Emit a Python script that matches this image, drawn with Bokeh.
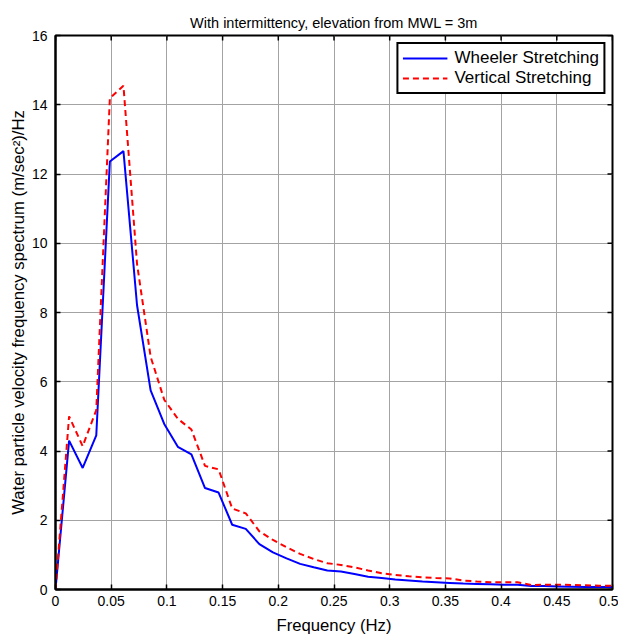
from bokeh.plotting import figure
from bokeh.models import Range1d, FixedTicker, Legend, LegendItem
from bokeh.embed import file_html
from bokeh.resources import INLINE
import math

# Frequency (Hz)
freq = [0.0000, 0.0122, 0.0244, 0.0366, 0.0488, 0.0610, 0.0732, 0.0854, 0.0976, 0.1098,
        0.1220, 0.1342, 0.1464, 0.1586, 0.1708, 0.1830, 0.1952, 0.2074, 0.2196, 0.2318,
        0.2440, 0.2562, 0.2684, 0.2806, 0.2928, 0.3050, 0.3172, 0.3294, 0.3416, 0.3538,
        0.3660, 0.3782, 0.3904, 0.4026, 0.4148, 0.4270, 0.4392, 0.4514, 0.4636, 0.4758,
        0.4880, 0.5002]

wheeler = [0.00, 4.30, 3.51, 4.45, 12.36, 12.66, 8.21, 5.75, 4.78, 4.12,
           3.90, 2.93, 2.80, 1.87, 1.75, 1.31, 1.07, 0.90, 0.74, 0.64,
           0.55, 0.52, 0.45, 0.37, 0.33, 0.29, 0.26, 0.23, 0.21, 0.19,
           0.17, 0.16, 0.15, 0.14, 0.14, 0.10, 0.10, 0.09, 0.08, 0.07,
           0.07, 0.07]

vertical = [0.00, 5.00, 4.14, 5.18, 14.19, 14.55, 9.40, 6.72, 5.48, 4.93,
            4.62, 3.57, 3.47, 2.34, 2.20, 1.68, 1.43, 1.22, 1.03, 0.88,
            0.76, 0.71, 0.64, 0.55, 0.47, 0.42, 0.38, 0.35, 0.33, 0.32,
            0.26, 0.23, 0.21, 0.21, 0.21, 0.13, 0.14, 0.14, 0.13, 0.12,
            0.11, 0.11]

x_ticks = [0.0, 0.05, 0.1, 0.15, 0.2, 0.25, 0.3, 0.35, 0.4, 0.45, 0.5]
x_tick_labels = ["0", "0.05", "0.1", "0.15", "0.2", "0.25", "0.3", "0.35", "0.4", "0.45", "0.5"]
y_ticks = [0, 2, 4, 6, 8, 10, 12, 14, 16]

FONT = "Liberation Sans"
X_MIN, X_MAX = x_ticks[0], x_ticks[-1]
Y_MIN, Y_MAX = y_ticks[0], y_ticks[-1]

p = figure(width=618, height=637, output_backend="svg", toolbar_location=None,
           x_range=Range1d(X_MIN, X_MAX), y_range=Range1d(Y_MIN, Y_MAX),
           min_border_left=55, min_border_right=6, min_border_top=35, min_border_bottom=46,
           background_fill_color="white", border_fill_color="white")

p.title.text = "With intermittency, elevation from MWL = 3m"
p.title.text_font = FONT
p.title.text_font_size = "14.5px"
p.title.text_font_style = "normal"
p.title.text_color = "black"
p.title.align = "center"

p.outline_line_color = "black"
p.outline_line_width = 2
p.outline_line_alpha = 1.0

for ax in (p.xaxis[0], p.yaxis[0]):
    ax.axis_line_width = 2
    ax.axis_line_color = "black"
    ax.major_tick_in = 5
    ax.major_tick_out = 0
    ax.major_tick_line_width = 1.5
    ax.minor_tick_line_color = None
    ax.major_label_text_font = FONT
    ax.major_label_text_font_size = "14px"
    ax.major_label_text_color = "black"
    ax.axis_label_text_font = FONT
    ax.axis_label_text_font_size = "16.7px"
    ax.axis_label_text_font_style = "normal"
    ax.axis_label_text_color = "black"

p.xaxis[0].ticker = FixedTicker(ticks=x_ticks)
p.xaxis[0].major_label_overrides = {t: l for t, l in zip(x_ticks, x_tick_labels)}
p.xaxis[0].axis_label = "Frequency (Hz)"
p.xaxis[0].major_label_standoff = 6
p.xaxis[0].axis_label_standoff = 7

p.yaxis[0].ticker = FixedTicker(ticks=y_ticks)
p.yaxis[0].axis_label = "Water particle velocity frequency spectrum (m/sec\u00b2)/Hz"
p.yaxis[0].major_label_standoff = 8
p.yaxis[0].axis_label_standoff = 1

p.grid.grid_line_color = "#a3a3a3"
p.grid.grid_line_width = 1
p.xgrid.ticker = FixedTicker(ticks=x_ticks)
p.ygrid.ticker = FixedTicker(ticks=y_ticks)

# inward ticks on the top and right edges (clipped to the frame)
p.scatter(x_ticks, [Y_MAX] * len(x_ticks), marker="dash", angle=math.pi / 2, size=10,
          line_color="black", line_width=1.5)
p.scatter([X_MAX] * len(y_ticks), y_ticks, marker="dash", size=10,
          line_color="black", line_width=1.5)

r1 = p.line(freq, wheeler, line_color="#0000ff", line_width=2)
r2 = p.line(freq, vertical, line_color="#ff0000", line_width=2, line_dash="6 4")

legend = Legend(items=[LegendItem(label="Wheeler Stretching", renderers=[r1]),
                       LegendItem(label="Vertical Stretching", renderers=[r2])],
                location="top_right", margin=7, padding=4, spacing=0,
                glyph_width=45, glyph_height=20, label_height=20, label_standoff=7,
                label_text_font=FONT, label_text_font_size="17px", label_text_color="black",
                border_line_color="black", border_line_width=2, border_line_alpha=1.0,
                background_fill_color="white", background_fill_alpha=1.0)
p.add_layout(legend)

open("out.html", "w").write(file_html(p, INLINE))
